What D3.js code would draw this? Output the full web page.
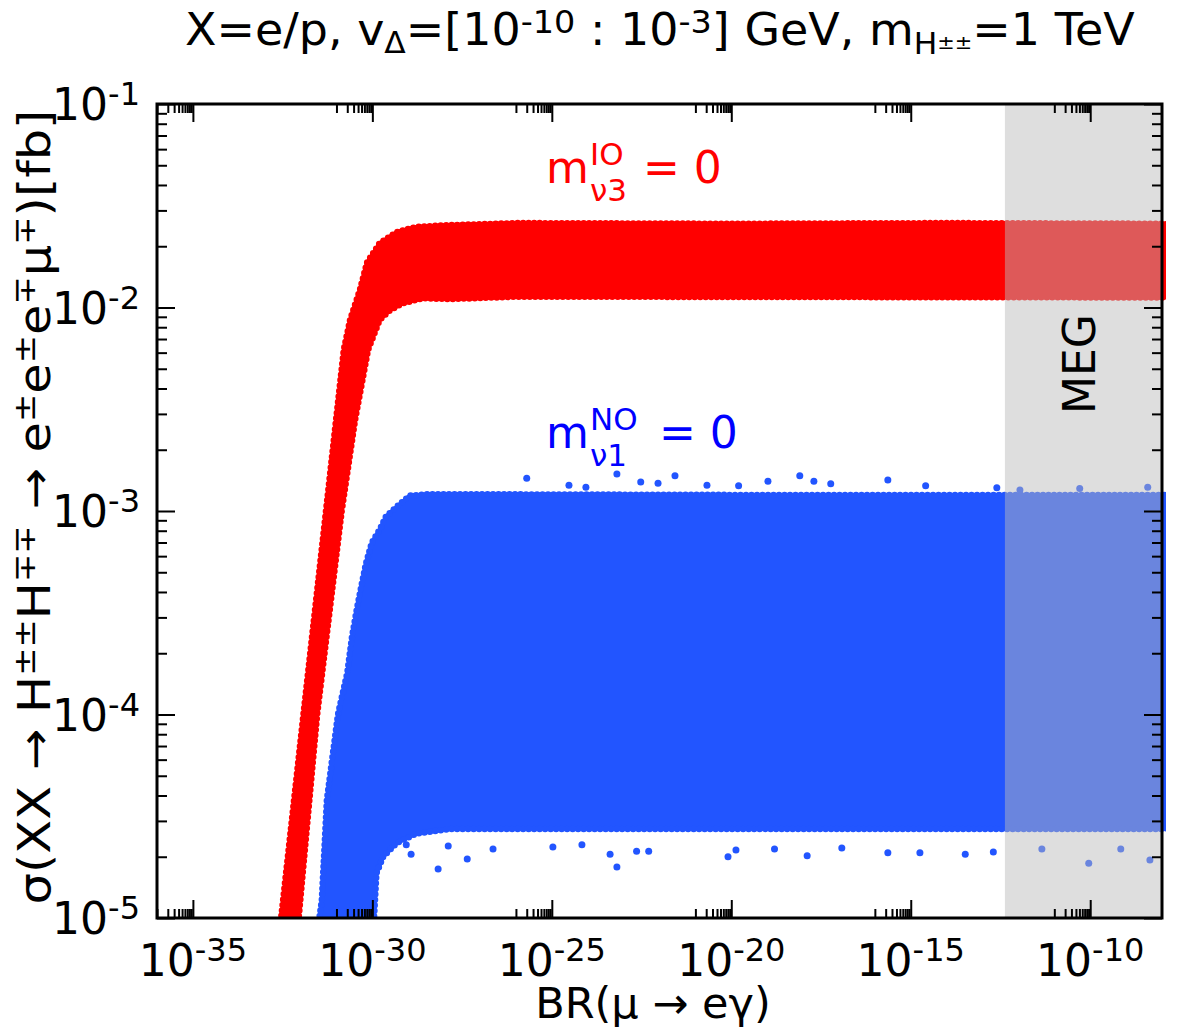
<!DOCTYPE html>
<html>
<head>
<meta charset="utf-8">
<script src="https://cdn.jsdelivr.net/npm/d3@7"></script>
<style>
  body { margin: 0; background: #fff; }
  text { font-family: "DejaVu Sans", sans-serif; white-space: pre; }
</style>
</head>
<body>
<svg id="chart" width="1177" height="1029"></svg>
<script>
"use strict";

// --- data (BR(mu -> e gamma), sigma in fb) ---
// inverted ordering, m_nu3 = 0 : upper/left edge and lower/right edge of the red cloud
var redUpperBR    = [2.5e-33, 1.2e-32, 5.1e-32, 1.6e-31, 2.4e-31, 4.5e-31, 7.1e-31, 1.6e-30, 4.9e-30, 1.7e-29, 1.4e-28, 1.1e-26, 1e-20, 1e-14, 1.3e-8];
var redUpperSigma = [8e-6,    1e-4,    1e-3,    6.2e-3,  8.7e-3,  1.22e-2, 1.66e-2, 2.07e-2, 2.35e-2, 2.49e-2, 2.54e-2, 2.6e-2,  2.58e-2, 2.6e-2, 2.58e-2];
var redLowerBR    = [7.9e-33, 2.9e-32, 1.4e-31, 3.3e-31, 7.6e-31, 1.6e-30, 3.1e-30, 7.1e-30, 2.6e-29, 1.4e-28, 1.1e-26, 1.3e-8];
var redLowerSigma = [8e-6,    1e-4,    1e-3,    2.8e-3,  6.2e-3,  8.7e-3,  9.7e-3,  1.05e-2, 1.11e-2, 1.10e-2, 1.13e-2, 1.12e-2];

// normal ordering, m_nu1 = 0 : blue cloud
var blueUpperBR    = [2.8e-32, 3.9e-32, 5.4e-32, 1.1e-31, 2.0e-31, 2.7e-31, 3.7e-31, 5.1e-31, 6.6e-31, 9.7e-31, 1.6e-30, 2.4e-30, 4.8e-30, 1.1e-29, 4.0e-29, 1e-20,  1.3e-8];
var blueUpperSigma = [8e-6,    1.22e-5, 3.8e-5,  1e-4,    1.6e-4,  2.4e-4,  3.3e-4,  4.4e-4,  5.5e-4,  7.0e-4,  8.1e-4,  9.4e-4,  1.05e-3, 1.19e-3, 1.21e-3, 1.2e-3, 1.2e-3];
var blueLowerBR    = [1.04e-30, 1.3e-30, 2.0e-30, 4.8e-30, 1.7e-29, 1.45e-28, 1.3e-8];
var blueLowerSigma = [8e-6,     1.66e-5, 2.0e-5,  2.34e-5, 2.6e-5,  2.74e-5,  2.74e-5];

// stray blue points outside the dense band
var blueOutBR = [2.0e-26, 6.5e-24, 3.0e-25, 3.0e-23, 9.1e-23, 2.7e-22, 2.1e-21, 1.05e-19, 8.1e-19, 2.0e-18, 5.9e-18, 2.3e-16, 2.6e-15, 2.5e-13, 1.6e-20, 8.9e-25, 4.0e-9, 1.1e-12, 5.1e-11,
                 6.8e-29, 4.4e-28, 6.5e-24, 2.3e-27, 4.2e-24, 8.1e-21, 1.3e-18, 2.3e-16, 1.8e-15, 2.3e-23, 5.0e-23, 1.6e-19, 1.2e-17, 1.35e-20, 1.07e-25, 6.9e-25, 1.3e-28, 9.1e-11, 4.6e-9, 4.5e-12, 7.1e-10, 3.3e-14, 2.0e-13, 1.2e-29, 8.8e-30];
var blueOutSigma = [1.45e-3, 1.52e-3, 1.34e-3, 1.39e-3, 1.37e-3, 1.49e-3, 1.34e-3, 1.40e-3, 1.49e-3, 1.40e-3, 1.36e-3, 1.42e-3, 1.33e-3, 1.30e-3, 1.33e-3, 1.31e-3, 1.31e-3, 1.27e-3, 1.29e-3,
                    1.74e-5, 1.95e-5, 1.78e-5, 2.18e-5, 2.06e-5, 2.0e-5, 2.02e-5, 2.09e-5, 2.09e-5, 2.13e-5, 2.13e-5, 2.18e-5, 2.21e-5, 2.16e-5, 2.23e-5, 2.29e-5, 2.26e-5, 1.86e-5, 1.93e-5, 2.18e-5, 2.18e-5, 2.06e-5, 2.11e-5, 2.06e-5, 2.29e-5];

var megLimit = 4.2e-13;
var xMajorExp = [-35, -30, -25, -20, -15, -10];
var yMajorExp = [-5, -4, -3, -2, -1];

(function() {
    var pLeft = 157, pRight = 1162, pTop = 104, pBottom = 918;

    var svg = d3.select('#chart');

    var x = d3.scaleLog().domain([1e-36, 1e-8]).range([pLeft, pRight]);
    var y = d3.scaleLog().domain([1e-5, 1e-1]).range([pBottom, pTop]);

    svg.append('defs').append('clipPath').attr('id', 'plotclip')
        .append('rect').attr('x', pLeft).attr('y', pTop - 2).attr('width', pRight - pLeft + 4).attr('height', pBottom - pTop + 3);

    var plot = svg.append('g').attr('clip-path', 'url(#plotclip)');

    var line = d3.line().x(function(d) { return x(d[0]); }).y(function(d) { return y(d[1]); });

    function band(upBR, upS, loBR, loS) {
        var pts = d3.zip(upBR, upS).concat(d3.zip(loBR, loS).reverse());
        return line(pts) + 'Z';
    }

    var red = '#ff0000', blue = '#2255ff';

    function drawBand(d, col) {
        plot.append('path').attr('d', d)
            .attr('fill', col).attr('stroke', col).attr('stroke-width', 4).attr('stroke-linejoin', 'round');
        // beaded edge, the cloud is made of round markers
        plot.append('path').attr('d', d)
            .attr('fill', 'none').attr('stroke', col).attr('stroke-width', 6.5)
            .attr('stroke-linecap', 'round').attr('stroke-dasharray', '0 5.5');
    }
    drawBand(band(redUpperBR, redUpperSigma, redLowerBR, redLowerSigma), red);
    drawBand(band(blueUpperBR, blueUpperSigma, blueLowerBR, blueLowerSigma), blue);

    plot.selectAll('circle.out').data(d3.zip(blueOutBR, blueOutSigma)).enter().append('circle')
        .attr('class', 'out')
        .attr('cx', function(d) { return x(d[0]); })
        .attr('cy', function(d) { return y(d[1]); })
        .attr('r', 3.5)
        .attr('fill', blue);

    // MEG excluded region
    svg.append('rect')
        .attr('x', x(megLimit)).attr('y', pTop)
        .attr('width', pRight - x(megLimit)).attr('height', pBottom - pTop)
        .attr('fill', '#b9b9b9').attr('fill-opacity', 0.48);

    // ticks: majors every 5 decades, minors only in the decade below each major
    var xMajor = xMajorExp.map(function(e) { return Math.pow(10, e); });
    var xMinor = [];
    xMajorExp.forEach(function(e) {
        for (var m = 1; m <= 9; m++) xMinor.push(m * Math.pow(10, e - 1));
    });
    var yMajor = yMajorExp.map(function(e) { return Math.pow(10, e); });
    var yMinor = [];
    yMajorExp.slice(0, -1).forEach(function(e) {
        for (var m = 2; m <= 9; m++) yMinor.push(m * Math.pow(10, e));
    });

    function ticks(axis, vals, len, tr) {
        var g = svg.append('g').attr('transform', tr)
            .call(axis.tickValues(vals).tickSizeInner(-len).tickSizeOuter(0).tickFormat(''));
        g.select('.domain').remove();
        g.selectAll('line').attr('stroke', '#000').attr('stroke-width', 2);
    }
    ticks(d3.axisBottom(x), xMajor, 18, 'translate(0,' + pBottom + ')');
    ticks(d3.axisBottom(x), xMinor, 9, 'translate(0,' + pBottom + ')');
    ticks(d3.axisTop(x), xMajor, 18, 'translate(0,' + pTop + ')');
    ticks(d3.axisTop(x), xMinor, 9, 'translate(0,' + pTop + ')');
    ticks(d3.axisLeft(y), yMajor, 18, 'translate(' + pLeft + ',0)');
    ticks(d3.axisLeft(y), yMinor, 10, 'translate(' + pLeft + ',0)');
    ticks(d3.axisRight(y), yMajor, 18, 'translate(' + pRight + ',0)');
    ticks(d3.axisRight(y), yMinor, 10, 'translate(' + pRight + ',0)');

    svg.append('rect').attr('x', pLeft).attr('y', pTop).attr('width', pRight - pLeft).attr('height', pBottom - pTop)
        .attr('fill', 'none').attr('stroke', '#000').attr('stroke-width', 3);

    // tick labels 10^n
    function powLabel(px, py, e, anchor) {
        var t = svg.append('text').attr('x', px).attr('y', py).attr('text-anchor', anchor)
            .attr('font-size', 44).attr('fill', '#000');
        t.append('tspan').text('10');
        t.append('tspan').attr('dy', -15).attr('font-size', 32).text('-' + Math.abs(e));
    }
    xMajorExp.forEach(function(e) { powLabel(x(Math.pow(10, e)), 976, e, 'middle'); });
    yMajorExp.forEach(function(e) { powLabel(140, y(Math.pow(10, e)) + 16, e, 'end'); });

    // rich text helper: parts = [text, size, dy]
    function rich(px, py, parts, anchor, color) {
        var t = svg.append('text').attr('x', px).attr('y', py).attr('text-anchor', anchor || 'start')
            .attr('fill', color || '#000');
        parts.forEach(function(p) {
            var s = t.append('tspan').attr('font-size', p[1]).text(p[0]);
            if (p[2]) s.attr('dy', p[2]);
        });
        return t;
    }
    function fitWidth(t, w, ox, oy) {
        var bb = t.node().getBBox();
        var sx = w / bb.width;
        t.attr('transform', 'translate(' + ox + ',' + oy + ') scale(' + sx + ',1) translate(' + (-ox) + ',' + (-oy) + ')');
    }

    var title = rich(185, 45, [
        ['X=e/p, v', 44], ['\u0394', 30, 8], ['=[10', 44, -8], ['-10', 32, -12], [' : 10', 44, 12], ['-3', 32, -12],
        ['] GeV, m', 44, 12], ['H', 30, 9], ['\u00b1\u00b1', 20, -5], ['=1 TeV', 44, -4]
    ]);
    fitWidth(title, 950, 185, 45);

    rich(653, 1018, [['BR(\u03bc \u2192 e\u03b3)', 43]], 'middle');

    var ylab = rich(0, 0, [
        ['\u03c3(XX \u2192 H', 44], ['\u00b1\u00b1', 30, -15], ['H', 44, 15], ['\u2213\u2213', 30, -15],
        [' \u2192 e', 44, 15], ['\u00b1', 30, -15], ['e', 44, 15], ['\u00b1', 30, -15], ['e', 44, 15], ['\u2213', 30, -15],
        ['\u03bc', 44, 15], ['\u2213', 30, -15], [')[fb]', 44, 15]
    ], 'middle');
    var yb = ylab.node().getBBox();
    ylab.attr('transform', 'translate(50,507) rotate(-90) scale(' + (795 / yb.width) + ',1)');

    // ordering labels: base, superscript and subscript as separate pieces
    function massLabel(py, sup, sub, color, eqx) {
        svg.append('text').attr('x', 546).attr('y', py).attr('fill', color).attr('font-size', 44).text('m');
        svg.append('text').attr('x', 590).attr('y', py - 18).attr('fill', color).attr('font-size', 31).text(sup);
        svg.append('text').attr('x', 590).attr('y', py + 18).attr('fill', color).attr('font-size', 31).text(sub);
        svg.append('text').attr('x', eqx).attr('y', py).attr('fill', color).attr('font-size', 44).text('= 0');
    }
    massLabel(183, 'IO', '\u03bd3', '#ff0000', 643);
    massLabel(448, 'NO', '\u03bd1', '#0000ff', 659);

    svg.append('text').attr('transform', 'translate(1095,364) rotate(-90)')
        .attr('text-anchor', 'middle').attr('font-size', 44).attr('fill', '#000').text('MEG');
})();
</script>
</body>
</html>
